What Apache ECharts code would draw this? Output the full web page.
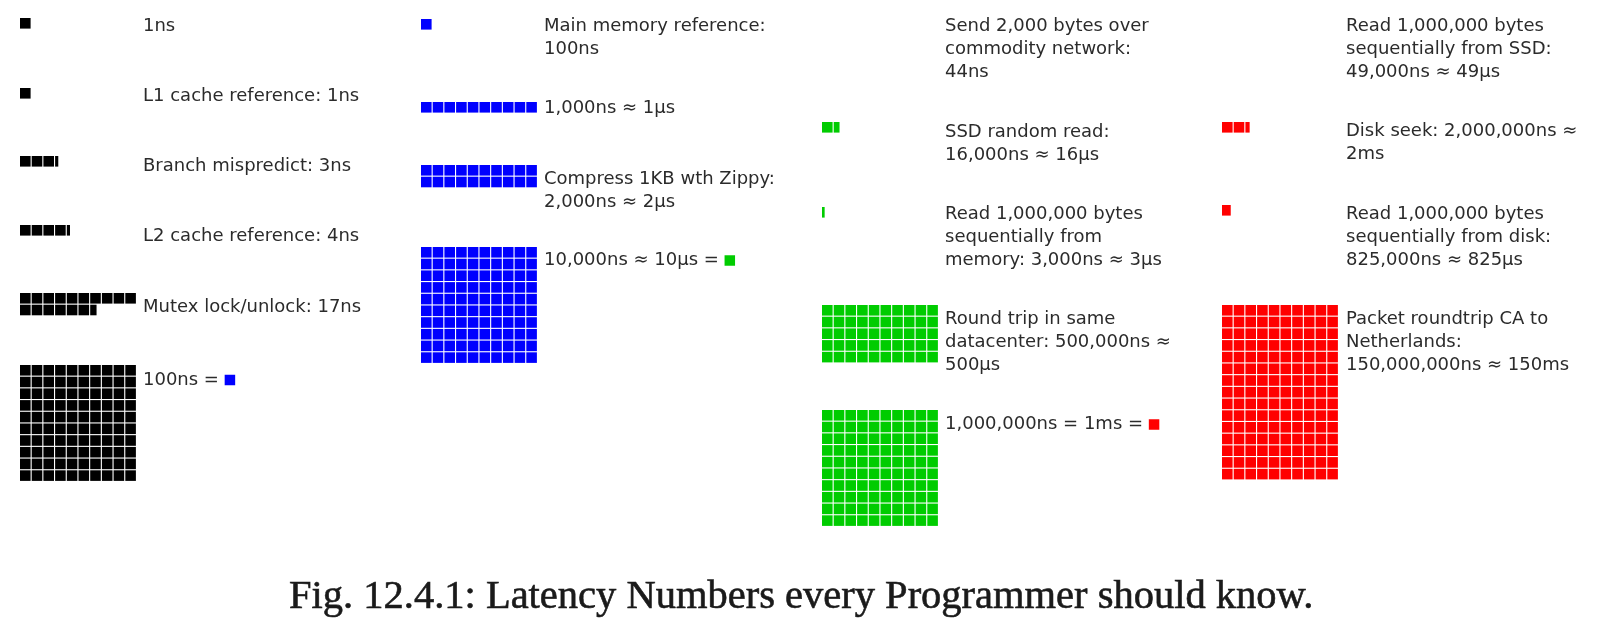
<!DOCTYPE html>
<html><head><meta charset="utf-8">
<script src="https://cdn.jsdelivr.net/npm/echarts@6/dist/echarts.min.js"></script>
<style>html,body{margin:0;padding:0;background:#fff}#c{width:1614px;height:638px}</style>
</head><body><div id="c"></div>
<script>
// ---- data (values in ns, as drawn in the picture) ----
const blackLabels = ['1ns', 'L1 cache reference: 1ns', 'Branch mispredict: 3ns', 'L2 cache reference: 4ns', 'Mutex lock/unlock: 17ns', '100ns = {b| }'];
const blackValues = [1, 1, 3.3, 4.3, 16.6, 100];
const blueLabels = ['Main memory reference:\n100ns', '1,000ns ≈ 1μs', 'Compress 1KB wth Zippy:\n2,000ns ≈ 2μs', '10,000ns ≈ 10μs = {g| }'];
const blueValues = [100, 1000, 2000, 10000];
const greenLabels = ['Send 2,000 bytes over\ncommodity network:\n44ns', 'SSD random read:\n16,000ns ≈ 16μs', 'Read 1,000,000 bytes\nsequentially from\nmemory: 3,000ns ≈ 3μs', 'Round trip in same\ndatacenter: 500,000ns ≈\n500μs', '1,000,000ns = 1ms = {r| }'];
const greenValues = [44, 15500, 2500, 500000, 1000000];
const redLabels = ['Read 1,000,000 bytes\nsequentially from SSD:\n49,000ns ≈ 49μs', 'Disk seek: 2,000,000ns ≈\n2ms', 'Read 1,000,000 bytes\nsequentially from disk:\n825,000ns ≈ 825μs', 'Packet roundtrip CA to\nNetherlands:\n150,000,000ns ≈ 150ms'];
const redValues = [49000, 2400000, 825000, 150000000];
const unitNs = [1, 100, 10000, 1000000];
const caption = 'Fig. 12.4.1: Latency Numbers every Programmer should know.';

// ---- layout & style ----
const labels = [blackLabels, blueLabels, greenLabels, redLabels];
const values = [blackValues, blueValues, greenValues, redValues];
const colors = ['#000000', '#0000ff', '#00cc00', '#ff0000'];
const colGridX = [20, 421, 822, 1222];
const colTextX = [143, 544, 945, 1346];
const gridTop = [[18, 88, 156, 225, 293, 365], [19, 102, 165, 247], [18, 122, 207, 305, 410], [18, 122, 205, 305]];
const textMid = [[26, 96.5, 166.5, 236.5, 307, 380], [26, 108.5, 179, 260.5], [26, 132, 214, 319, 424.5], [26, 131, 214, 319]];
const PITCH = 11.7, CELL = 10.6, LH = 23.3, PER_ROW = 10;

const items = [];
labels.forEach((arr, c) => arr.forEach((_, i) => items.push([c, i])));

function sq(color) { return { backgroundColor: color, width: 10.5, height: 10.5, fontSize: 1 }; }

function renderItem(params, api) {
  const c = api.value(0), i = api.value(1);
  const n = values[c][i] / unitNs[c];
  const full = Math.floor(n + 1e-9), frac = n - full;
  const children = [];
  const x0 = colGridX[c], y0 = gridTop[c][i];
  function cell(k, w) {
    const r = Math.floor(k / PER_ROW), q = k % PER_ROW;
    const p = api.coord([x0 + q * PITCH, y0 + r * PITCH]);
    const s = api.size([w, CELL]);
    children.push({ type: 'rect', shape: { x: p[0], y: p[1], width: s[0], height: s[1] }, style: { fill: colors[c] } });
  }
  for (let k = 0; k < full; k++) cell(k, CELL);
  if (frac * CELL >= 0.8) cell(full, frac * CELL);
  const tp = api.coord([colTextX[c], textMid[c][i] - LH / 2]);
  children.push({
    type: 'text', x: tp[0], y: tp[1],
    style: {
      text: labels[c][i], fill: '#2b2b2b', fontFamily: 'DejaVu Sans', fontSize: 18,
      lineHeight: LH, align: 'left', verticalAlign: 'top',
      rich: { b: sq('#0000ff'), g: sq('#00cc00'), r: sq('#ff0000') }
    }
  });
  return { type: 'group', children };
}

const chart = echarts.init(document.getElementById('c'), null, { renderer: 'canvas' });
chart.setOption({
  animation: false,
  backgroundColor: '#ffffff',
  title: {
    text: caption, left: 284, top: 572,
    textStyle: { fontFamily: 'Liberation Serif', fontSize: 40.5, fontWeight: 'normal', color: '#1a1a1a',
      textBorderColor: '#1a1a1a', textBorderWidth: 0.6 }
  },
  grid: { left: 0, right: 0, top: 0, bottom: 0 },
  xAxis: { type: 'value', min: 0, max: 1614, show: false },
  yAxis: { type: 'value', min: 0, max: 638, inverse: true, show: false },
  series: [{ type: 'custom', renderItem, data: items, clip: false }]
});
</script></body></html>
